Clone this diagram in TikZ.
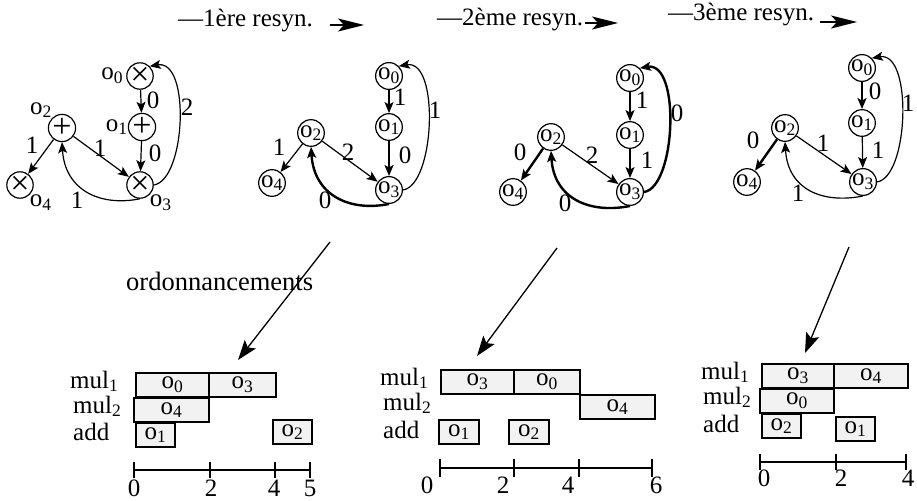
\documentclass[tikz,border=0pt]{standalone}
\usepackage{fontspec}
\setmainfont{Liberation Serif}
\usetikzlibrary{arrows.meta}

\newcommand{\op}[1]{o\textsubscript{#1}}
\newcommand{\sym}[1]{{\fontsize{34}{34}\selectfont #1}}

\begin{document}
\begin{tikzpicture}[x=1pt, y=-1pt, font=\fontsize{25}{30}\selectfont,
  opnode/.style={circle, draw, line width=1.2pt, minimum size=26pt, inner sep=0pt},
  lab/.style={inner sep=0pt},
  dep/.style={line width=1.2pt, -{Stealth[length=11pt,width=9pt,inset=2.5pt]}},
  heavy/.style={line width=2.4pt},
  big/.style={line width=1.3pt, -{Stealth[length=20pt,width=14pt,inset=4pt]}},
  hdr/.style={line width=1.3pt, -{Stealth[length=26pt,width=13pt,inset=6pt]}},
  slot/.style={draw, fill=gray!10, line width=1.2pt},
  axis/.style={line width=1.3pt},
  rowlab/.style={anchor=base west, inner sep=0pt},
  title/.style={anchor=base west, inner sep=0pt}]
\useasboundingbox (0,0) rectangle (917,500);

% titles
\node[title] (t1) at (178,27) {—1ère resyn.};
\node[title] (t2) at (437,26) {—2ème resyn.};
\node[title] (t3) at (668,21) {—3ème resyn.};
\coordinate (h1a) at (330,25); \coordinate (h1b) at (364,25);
\coordinate (h2a) at (585,23); \coordinate (h2b) at (618,23);
\coordinate (h3a) at (820,22); \coordinate (h3b) at (857,22);
\draw[hdr] (h1a) -- (h1b);
\draw[hdr] (h2a) -- (h2b);
\draw[hdr] (h3a) -- (h3b);

% graph 1
\node[opnode, label={[lab, label distance=3pt]left:\op{0}}] (a0) at (140,76) {\sym{×}};
\node[opnode, label={[lab]left:\op{1}}] (a1) at (142,127) {\sym{+}};
\node[opnode, label={[lab]above left:\op{2}}] (a2) at (62,128) {\sym{+}};
\node[opnode, label={[lab]below right:\op{3}}] (a3) at (140,185) {\sym{×}};
\node[opnode, label={[lab]below right:\op{4}}] (a4) at (20,185) {\sym{×}};
\draw[dep] (a0) -- (a1) node[lab] at (153,100) {0};
\draw[dep] (a1) -- (a3) node[lab] at (155,153) {0};
\draw[dep] (a2) -- (a4) node[lab] at (32,145) {1};
\draw[dep] (a2) -- (a3) node[lab] at (100,148) {1};
\draw[dep] (a3.south) .. controls +(-40,8) and +(3,48) .. (a2.south) node[lab] at (77,200) {1};
\draw[dep] (a3.east) .. controls +(32,-5) and +(41,-7) .. (a0.north east) node[lab] at (187,107) {2};

% graph 2
\foreach \n/\x/\y in {0/389/76, 1/389/127, 2/311/133, 3/389/190, 4/272/183}
  \node[opnode] (b\n) at (\x,\y) {\op{\n}};
\draw[dep] (b0) -- (b1) node[lab] at (400,97) {1};
\draw[dep, heavy] (b1) -- (b3) node[lab] at (405,155) {0};
\draw[dep] (b2) -- (b4) node[lab] at (279,147) {1};
\draw[dep] (b2) -- (b3) node[lab] at (348,152) {2};
\draw[dep, heavy] (b3.south) .. controls +(-40,8) and +(3,48) .. (b2.south) node[lab] at (325,200) {0};
\draw[dep] (b3.east) .. controls +(32,-5) and +(41,-7) .. (b0.north east) node[lab] at (435,110) {1};

% graph 3
\foreach \n/\x/\y in {0/630/78, 1/630/135, 2/551/137, 3/630/192, 4/513/192}
  \node[opnode] (c\n) at (\x,\y) {\op{\n}};
\draw[dep] (c0) -- (c1) node[lab] at (642,100) {1};
\draw[dep] (c1) -- (c3) node[lab] at (647,160) {1};
\draw[dep, heavy] (c2) -- (c4) node[lab] at (520,152) {0};
\draw[dep] (c2) -- (c3) node[lab] at (592,155) {2};
\draw[dep, heavy] (c3.south) .. controls +(-40,8) and +(3,48) .. (c2.south) node[lab] at (565,203) {0};
\draw[dep, heavy] (c3.east) .. controls +(32,-5) and +(41,-7) .. (c0.north east) node[lab] at (677,113) {0};

% graph 4
\foreach \n/\x/\y in {0/862/68, 1/862/123, 2/785/128, 3/863/182, 4/747/182}
  \node[opnode] (d\n) at (\x,\y) {\op{\n}};
\draw[dep, heavy] (d0) -- (d1) node[lab] at (875,91) {0};
\draw[dep] (d1) -- (d3) node[lab] at (878,150) {1};
\draw[dep, heavy] (d2) -- (d4) node[lab] at (753,140) {0};
\draw[dep] (d2) -- (d3) node[lab] at (823,143) {1};
\draw[dep] (d3.south) .. controls +(-40,8) and +(3,48) .. (d2.south) node[lab] at (798,193) {1};
\draw[dep] (d3.east) .. controls +(32,-5) and +(41,-7) .. (d0.north east) node[lab] at (908,103) {1};

% graphs to schedules
\node[rowlab, font=\fontsize{26.5}{30}\selectfont] (ord) at (126,290) {ordonnancements};
\coordinate (g1) at (330,242); \coordinate (s1) at (238,360);
\coordinate (g2) at (557,248); \coordinate (s2) at (477,356);
\coordinate (g3) at (849,247); \coordinate (s3) at (805,353);
\draw[big] (g1) -- (s1);
\draw[big] (g2) -- (s2);
\draw[big] (g3) -- (s3);

% schedule 1
\foreach \n/\x/\y/\r in {1/70/388/mul\textsubscript{1}, 2/73/413/mul\textsubscript{2}, 3/73/440/add}
  \node[rowlab] (rA\n) at (\x,\y) {\r};
\foreach \xa/\xb/\ya/\yb/\o in {136/209/373/397/0, 209/276/373/397/3, 134/209/398/422/4,
    136/175/423/447/1, 273/312/420/444/2}
  \draw[slot] (\xa,\ya) rectangle (\xb,\yb) node[midway] (pA\o) {\op{\o}};
\draw[axis] (134,470) -- (310,470);
\foreach \x in {134,210,275,310}
  \draw[axis] (\x,462) -- (\x,478);
\foreach \x/\t in {134/0, 211/2, 274/4, 310/5}
  \node[lab] (tA\t) at (\x,488) {\t};

% schedule 2
\foreach \n/\x/\y/\r in {1/380/385/mul\textsubscript{1}, 2/383/410/mul\textsubscript{2}, 3/383/438/add}
  \node[rowlab] (rB\n) at (\x,\y) {\r};
\foreach \xa/\xb/\ya/\yb/\o in {441/514/370/394/3, 514/580/370/394/0, 580/655/395/419/4,
    439/479/420/444/1, 509/549/420/444/2}
  \draw[slot] (\xa,\ya) rectangle (\xb,\yb) node[midway] (pB\o) {\op{\o}};
\draw[axis] (440,468) -- (652,468);
\foreach \x in {440,514,579,652}
  \draw[axis] (\x,459) -- (\x,477);
\foreach \x/\t in {427/0, 503/2, 568/4, 656/6}
  \node[lab] (tB\t) at (\x,485) {\t};

% schedule 3
\foreach \n/\x/\y/\r in {1/701/379/mul\textsubscript{1}, 2/703/404/mul\textsubscript{2}, 3/703/432/add}
  \node[rowlab] (rC\n) at (\x,\y) {\r};
\foreach \xa/\xb/\ya/\yb/\o in {762/834/364/388/3, 834/908/364/388/4, 760/834/389/413/0,
    762/801/414/438/2, 836/875/417/441/1}
  \draw[slot] (\xa,\ya) rectangle (\xb,\yb) node[midway] (pC\o) {\op{\o}};
\draw[axis] (760,462) -- (906,462);
\foreach \x in {760,836,906}
  \draw[axis] (\x,454) -- (\x,470);
\foreach \x/\t in {764/0, 841/2, 908/4}
  \node[lab] (tC\t) at (\x,478) {\t};
\end{tikzpicture}
\end{document}
